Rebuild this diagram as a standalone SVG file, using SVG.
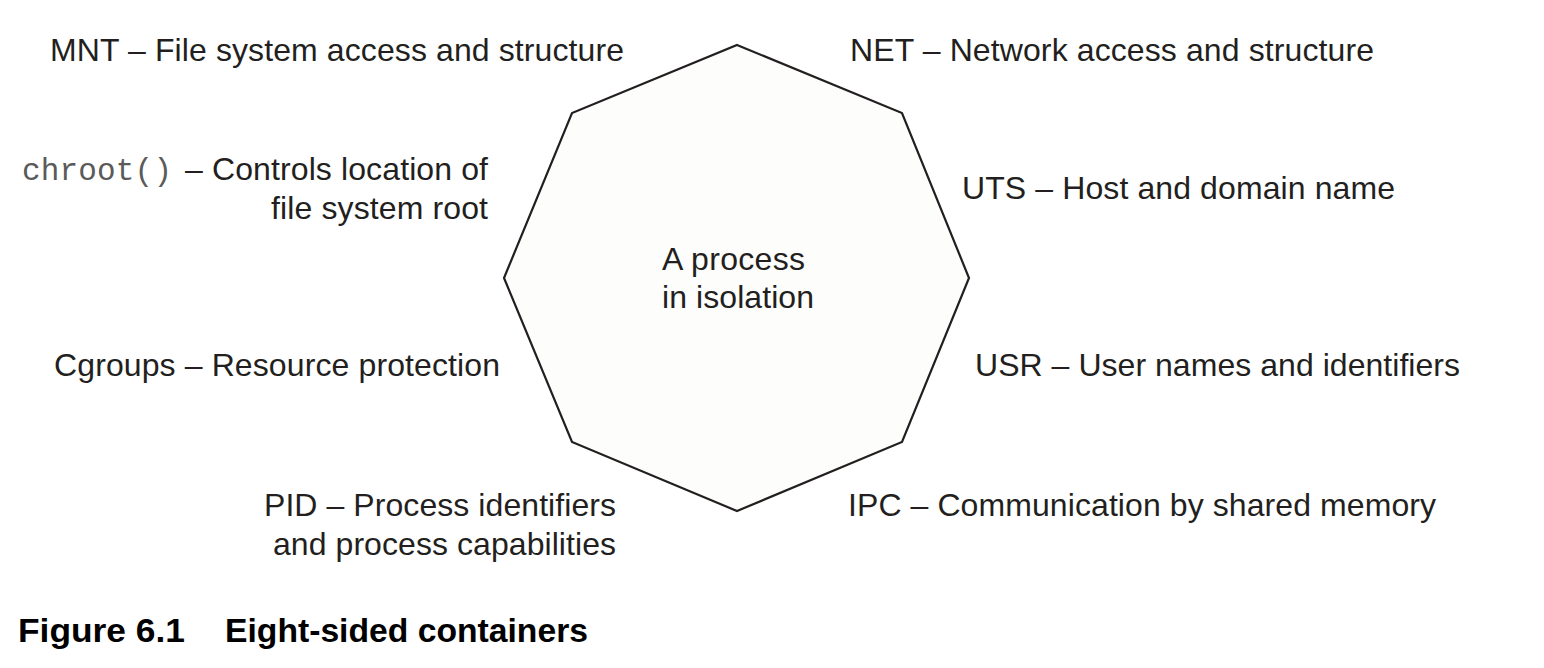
<svg xmlns="http://www.w3.org/2000/svg" width="1544" height="668" viewBox="0 0 1544 668">
<style>
.t{font-family:"Liberation Sans",Arial,sans-serif;font-size:32px;fill:#231f20}
.m{font-family:"Liberation Mono","Courier New",monospace;font-size:31px;fill:#5a5a5a}
.cap{font-family:"Liberation Sans",Arial,sans-serif;font-size:33px;font-weight:bold;fill:#000}
</style>
<rect width="1544" height="668" fill="#fff"/>
<g id="octagon">
<polygon points="737,45 902,113 969,278 902,442 737,511 572,442 504,278 572,113" fill="#fdfdfb" stroke="#231f20" stroke-width="2.2" stroke-linejoin="miter"/>
<text class="t" x="662" y="270" textLength="143">A process</text>
<text class="t" x="662" y="308" textLength="152">in isolation</text>
</g>
<g id="connectors"></g>
<g id="mnt"><text class="t" x="50" y="61" textLength="574">MNT – File system access and structure</text></g>
<g id="chroot"><text class="m" x="22" y="180" textLength="150">chroot()</text><text class="t" x="185" y="180" textLength="303">– Controls location of</text>
<text class="t" x="271" y="219" textLength="217">file system root</text></g>
<g id="cgroups"><text class="t" x="54" y="376" textLength="446">Cgroups – Resource protection</text></g>
<g id="pid"><text class="t" x="264" y="516" textLength="352">PID – Process identifiers</text>
<text class="t" x="273" y="555" textLength="343">and process capabilities</text></g>
<g id="net"><text class="t" x="850" y="61" textLength="524">NET – Network access and structure</text></g>
<g id="uts"><text class="t" x="962" y="199" textLength="433">UTS – Host and domain name</text></g>
<g id="usr"><text class="t" x="975" y="376" textLength="485">USR – User names and identifiers</text></g>
<g id="ipc"><text class="t" x="848" y="516" textLength="588">IPC – Communication by shared memory</text></g>
<g id="caption"><text class="cap" x="18" y="642" textLength="167" lengthAdjust="spacingAndGlyphs">Figure 6.1</text>
<text class="cap" x="225" y="642" textLength="363" lengthAdjust="spacingAndGlyphs">Eight-sided containers</text></g>
</svg>
